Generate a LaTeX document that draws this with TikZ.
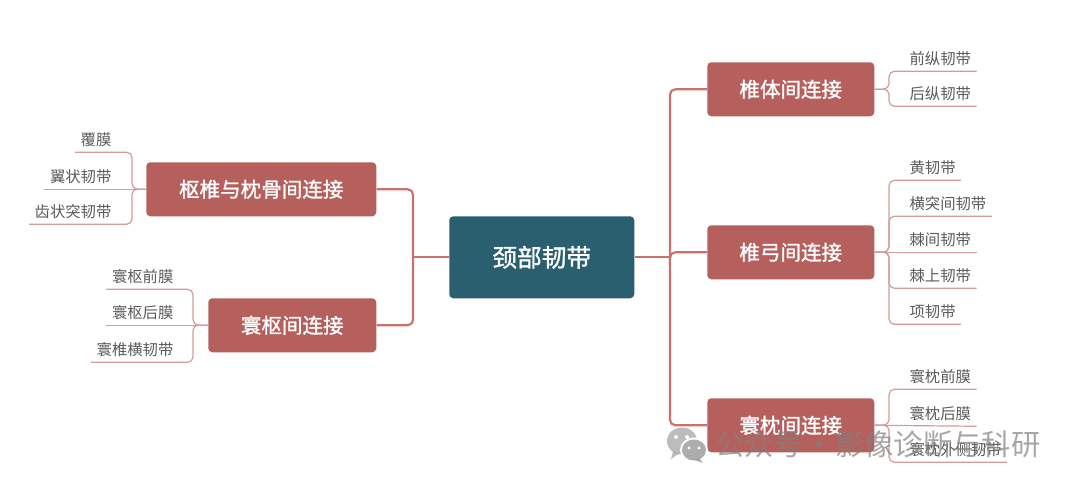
\documentclass[tikz,border=0pt]{standalone}
\usepackage{fontspec}
\setmainfont{Noto Sans CJK SC}
\newfontfamily\cjkbold[FakeBold=1.2]{Noto Sans CJK SC}

\definecolor{branchred}{HTML}{B5605C}
\definecolor{linered}{HTML}{C9716D}
\definecolor{twigred}{HTML}{D39C99}
\definecolor{rootblue}{HTML}{2A5F70}
\definecolor{leafgray}{HTML}{5A5A5A}

\tikzset{
  root/.style={fill=rootblue, rounded corners=3pt, text=white, font=\cjkbold\fontsize{18.5}{20}\selectfont, anchor=north west, inner sep=0pt},
  branch/.style={fill=branchred, rounded corners=3pt, text=white, font=\cjkbold\fontsize{15.4}{17}\selectfont, anchor=north west, inner sep=0pt, minimum height=40.5pt},
  leaf/.style={text=leafgray, font=\fontsize{11.5}{13}\selectfont, inner xsep=4pt, inner ysep=0pt, minimum height=18pt},
  trunk/.style={draw=linered, line width=1.6pt, rounded corners=4pt},
  twig/.style={draw=twigred, line width=.9pt, rounded corners=4pt},
}

\begin{document}
\begin{tikzpicture}[x=.75pt,y=-.75pt]
  \useasboundingbox (0,0) rectangle (1080,488);

  \node [root, minimum width=138.75pt, minimum height=61.5pt] (neck) at (449,216) {颈部韧带};

  \node [branch, minimum width=125.25pt] (body) at (707,62) {椎体间连接};
  \node [branch, minimum width=125.25pt] (arch) at (707,225) {椎弓间连接};
  \node [branch, minimum width=125.25pt] (atoc) at (707,398) {寰枕间连接};
  \node [branch, minimum width=172.5pt] (axoc) at (146,162) {枢椎与枕骨间连接};
  \node [branch, minimum width=126pt] (atax) at (208,298) {寰枢间连接};

  \node [leaf, anchor=west] (qz) at (904,59) {前纵韧带};
  \node [leaf, anchor=west] (hz) at (904,94) {后纵韧带};

  \node [leaf, anchor=west] (huang) at (904,168) {黄韧带};
  \node [leaf, anchor=west] (ht) at (904,204) {横突间韧带};
  \node [leaf, anchor=west] (jj) at (904,240) {棘间韧带};
  \node [leaf, anchor=west] (js) at (904,276) {棘上韧带};
  \node [leaf, anchor=west] (xiang) at (904,312) {项韧带};

  \node [leaf, anchor=west] (zq) at (904,377) {寰枕前膜};
  \node [leaf, anchor=west] (zh) at (904,414) {寰枕后膜};
  \node [leaf, anchor=west] (zw) at (904,450) {寰枕外侧韧带};

  \node [leaf, anchor=east] (fm) at (117,140) {覆膜};
  \node [leaf, anchor=east] (yz) at (117,177) {翼状韧带};
  \node [leaf, anchor=east] (cz) at (117,212) {齿状突韧带};

  \node [leaf, anchor=east] (sq) at (179,277) {寰枢前膜};
  \node [leaf, anchor=east] (sh) at (179,313) {寰枢后膜};
  \node [leaf, anchor=east] (hh) at (179,350) {寰椎横韧带};

  \coordinate (rbus) at (670,257);
  \coordinate (lbus) at (413,257);
  \coordinate (bodybus) at (889,89);
  \coordinate (archbus) at (889,252);
  \coordinate (atocbus) at (889,425);
  \coordinate (axocbus) at (132,189);
  \coordinate (ataxbus) at (193,325);

  \draw [trunk] (neck.east |- rbus) -- (rbus);
  \draw [trunk] (neck.west |- lbus) -- (lbus);
  \draw [trunk] (rbus) |- (body.west);
  \draw [trunk] (rbus) |- (arch.west);
  \draw [trunk] (rbus) |- (atoc.west);
  \draw [trunk] (lbus) |- (axoc.east);
  \draw [trunk] (lbus) |- (atax.east);

  \draw [twig] (body.east) -- (bodybus) |- (qz.south east);
  \draw [twig] (body.east) -- (bodybus) |- (hz.south east);

  \draw [twig] (arch.east) -- (archbus) |- (huang.south east);
  \draw [twig] (arch.east) -- (archbus) |- (ht.south east);
  \draw [twig] (arch.east) -- (jj.south east);
  \draw [twig] (arch.east) -- (archbus) |- (js.south east);
  \draw [twig] (arch.east) -- (archbus) |- (xiang.south east);

  \draw [twig] (atoc.east) -- (atocbus) |- (zq.south east);
  \draw [twig] (atoc.east) -- (zh.south east);
  \draw [twig] (atoc.east) -- (atocbus) |- (zw.south east);

  \draw [twig] (axoc.west) -- (axocbus) |- (fm.south west);
  \draw [twig] (axoc.west) -- (yz.south west);
  \draw [twig] (axoc.west) -- (axocbus) |- (cz.south west);

  \draw [twig] (atax.west) -- (ataxbus) |- (sq.south west);
  \draw [twig] (atax.west) -- (sh.south west);
  \draw [twig] (atax.west) -- (ataxbus) |- (hh.south west);

  % speech bubbles and account line on top of the lower branch
  \begin{scope}[opacity=.75, fill=gray!70]
    \fill (682,441) ellipse [x radius=15, y radius=13.5];
    \fill (673,451) -- (671,459) -- (680,453) -- cycle;
  \end{scope}
  \fill [white] (694,450) ellipse [x radius=14, y radius=12.5];
  \begin{scope}[opacity=.85, fill=gray!75]
    \fill (694,450) ellipse [x radius=12, y radius=10.5];
    \fill (699,458) -- (703,463) -- (692,459) -- cycle;
  \end{scope}
  \fill [white] (676,437) circle [radius=2];
  \fill [white] (687,437) circle [radius=2];
  \fill [white] (689,448) circle [radius=1.6];
  \fill [white] (699,448) circle [radius=1.6];
  \node [text=gray, opacity=.7, font=\fontsize{22}{24}\selectfont, inner sep=0pt, anchor=west] (account) at (715,444) {公众号\hspace{1pt}·\hspace{1pt}影像诊断与科研};
\end{tikzpicture}
\end{document}
